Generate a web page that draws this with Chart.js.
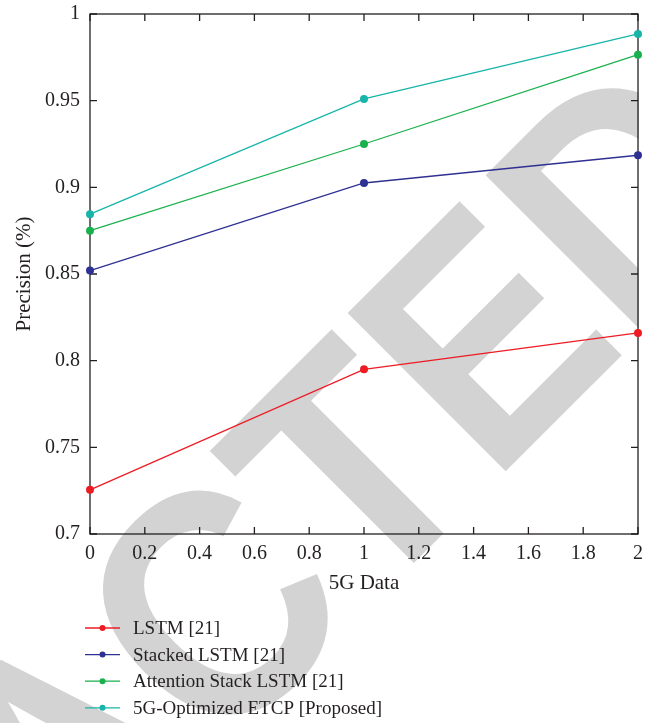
<!DOCTYPE html>
<html><head><meta charset="utf-8">
<script src="https://cdn.jsdelivr.net/npm/chart.js@4"></script>
<style>html,body{margin:0;padding:0;background:#fff}#wrap{width:651px;height:723px;position:relative}</style>
</head><body><div id="wrap"><canvas id="c"></canvas></div>
<script>
const xValues = [0, 1, 2];
const seriesNames = ['LSTM [21]', 'Stacked LSTM [21]', 'Attention Stack LSTM [21]', '5G-Optimized ETCP [Proposed]'];
const lstm = [0.7255, 0.795, 0.816];
const stackedLstm = [0.852, 0.9025, 0.9185];
const attentionLstm = [0.875, 0.925, 0.9765];
const etcp = [0.8845, 0.951, 0.9885];
const seriesColors = ['#ed1c24', '#2e3192', '#1bb04e', '#17b5a9'];
const xTickLabels = ['0', '0.2', '0.4', '0.6', '0.8', '1', '1.2', '1.4', '1.6', '1.8', '2'];
const yTickLabels = ['0.7', '0.75', '0.8', '0.85', '0.9', '0.95', '1'];
const xTitle = '5G Data';
const yTitle = 'Precision (%)';
const watermark = 'RETRACTED';

const seriesValues = [lstm, stackedLstm, attentionLstm, etcp];
const TEXT = '#231f20';
const SERIF = '"Liberation Serif", "Times New Roman", serif';
const FS_TICK = 20;
const FS_TITLE = 21;
const FS_LEGEND = 19;

const watermarkPlugin = {
  id: 'watermark',
  beforeDraw(chart) {
    const ctx = chart.ctx;
    const a = chart.chartArea;
    ctx.save();
    ctx.beginPath();
    ctx.rect(0, 0, a.right + 1, chart.height);
    ctx.clip();
    ctx.fillStyle = '#d3d3d3';
    ctx.font = 'bold 325px "Liberation Sans", Arial, sans-serif';
    ctx.textBaseline = 'alphabetic';
    ctx.rotate(-Math.PI / 4);
    const sx = 0.9;
    ctx.scale(sx, 1);
    const pre = ctx.measureText('RETRAC').width;
    const tW = ctx.measureText('T').width;
    const tOrigin = (-84.5 / sx) - tW / 2;
    ctx.fillText(watermark, tOrigin - pre, 690.8);
    ctx.restore();
  }
};

const framePlugin = {
  id: 'frame',
  beforeDatasetsDraw(chart) {
    const { ctx, chartArea: a, scales: { x, y } } = chart;
    ctx.save();
    ctx.strokeStyle = TEXT;
    ctx.lineWidth = 1.3;
    ctx.strokeRect(a.left, a.top, a.right - a.left, a.bottom - a.top);
    ctx.beginPath();
    x.ticks.forEach(t => {
      const px = x.getPixelForValue(t.value);
      ctx.moveTo(px, a.bottom); ctx.lineTo(px, a.bottom - 7);
      ctx.moveTo(px, a.top); ctx.lineTo(px, a.top + 7);
    });
    y.ticks.forEach(t => {
      const py = y.getPixelForValue(t.value);
      ctx.moveTo(a.left, py); ctx.lineTo(a.left + 7, py);
      ctx.moveTo(a.right, py); ctx.lineTo(a.right - 7, py);
    });
    ctx.stroke();
    ctx.restore();
  }
};

const legendPlugin = {
  id: 'customLegend',
  afterDraw(chart) {
    const ctx = chart.ctx;
    ctx.save();
    chart.data.datasets.forEach((ds, i) => {
      const yy = 628 + i * 26.6;
      ctx.strokeStyle = ds.borderColor;
      ctx.lineWidth = 1.3;
      ctx.beginPath(); ctx.moveTo(85, yy); ctx.lineTo(120, yy); ctx.stroke();
      ctx.fillStyle = ds.borderColor;
      ctx.beginPath(); ctx.arc(102.5, yy, 3, 0, Math.PI * 2); ctx.fill();
      ctx.fillStyle = TEXT;
      ctx.font = FS_LEGEND + 'px ' + SERIF;
      ctx.textBaseline = 'middle';
      ctx.fillText(ds.label, 133, yy + 1);
    });
    ctx.restore();
  }
};

const datasets = seriesNames.map((name, i) => ({
  label: name,
  data: xValues.map((xv, j) => ({ x: xv, y: seriesValues[i][j] })),
  borderColor: seriesColors[i],
  backgroundColor: seriesColors[i],
  borderWidth: 1.3,
  pointRadius: 4,
  pointBorderWidth: 0,
  pointHoverRadius: 4,
  tension: 0,
  fill: false,
  clip: false
}));

new Chart(document.getElementById('c'), {
  type: 'line',
  data: { datasets },
  options: {
    responsive: true,
    maintainAspectRatio: false,
    animation: false,
    events: [],
    layout: { autoPadding: false, padding: { left: 0, top: 14, right: 13, bottom: 119 } },
    plugins: { legend: { display: false }, tooltip: { enabled: false } },
    scales: {
      x: {
        type: 'linear', min: 0, max: 2,
        grid: { display: false, drawTicks: false },
        border: { display: false },
        ticks: {
          stepSize: 0.2, padding: 8, color: TEXT, maxRotation: 0, autoSkip: false,
          font: { family: SERIF, size: FS_TICK },
          callback: (v, i) => xTickLabels[i]
        },
        title: { display: true, text: xTitle, color: TEXT, font: { family: SERIF, size: FS_TITLE }, padding: { top: 0, bottom: 8 } },
        afterFit(s) { s.height = 70; s.paddingLeft = 0; s.paddingRight = 0; }
      },
      y: {
        type: 'linear', min: 0.7, max: 1,
        grid: { display: false, drawTicks: false },
        border: { display: false },
        ticks: {
          stepSize: 0.05, padding: 10, color: TEXT,
          font: { family: SERIF, size: FS_TICK },
          callback: (v, i) => yTickLabels[i]
        },
        title: { display: true, text: yTitle, color: TEXT, font: { family: SERIF, size: FS_TITLE }, padding: { top: 12, bottom: 0 } },
        afterFit(s) { s.width = 90; s.paddingTop = 0; s.paddingBottom = 0; }
      }
    }
  },
  plugins: [watermarkPlugin, framePlugin, legendPlugin]
});
</script>
</body></html>
